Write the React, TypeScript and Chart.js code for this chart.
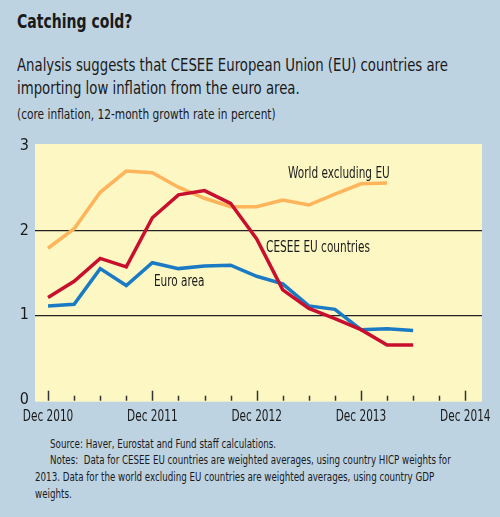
import React, { useEffect, useRef } from "react";
import { Chart, registerables, ChartOptions, Plugin } from "chart.js";

Chart.register(...registerables);

// quarterly points, index 0 = Dec 2010
const cesee = [1.21, 1.4, 1.67, 1.57, 2.15, 2.42, 2.47, 2.32, 1.9, 1.3, 1.08, 0.96, 0.83, 0.65, 0.65];
const euroArea = [1.11, 1.13, 1.55, 1.35, 1.62, 1.55, 1.58, 1.59, 1.46, 1.37, 1.11, 1.07, 0.83, 0.84, 0.82];
const worldExEu = [1.79, 2.02, 2.45, 2.7, 2.68, 2.51, 2.38, 2.28, 2.28, 2.36, 2.3, 2.43, 2.55, 2.56];

const xTickLabels = ["Dec 2010", "Dec 2011", "Dec 2012", "Dec 2013", "Dec 2014"];
const yTicks = [0, 1, 2, 3];
const quarterCount = 17;

const seriesLabels = ["CESEE EU countries", "Euro area", "World excluding EU"];

const FONT = "'DejaVu Sans Condensed', 'Liberation Sans', sans-serif";
const SQUEEZE = 0.78; // the original uses a condensed face
const BLUE_BG = "#bed3e2";
const PLOT_BG = "#fcf7c3";

const toPoints = (vals: number[]) => vals.map((y, x) => ({ x, y }));

// label anchors in data units (left edge, baseline)
const labelSpots = [
  { text: "World excluding EU", x: 9.2, y: 2.62 },
  { text: "CESEE EU countries", x: 8.36, y: 1.75 },
  { text: "Euro area", x: 4.06, y: 1.35 },
];

const squeezedText = (ctx: CanvasRenderingContext2D, s: string, x: number, y: number, align: "left" | "center") => {
  ctx.save();
  ctx.translate(x, y);
  ctx.scale(SQUEEZE, 1);
  ctx.textAlign = align;
  ctx.fillText(s, 0, 0);
  ctx.restore();
};

const plotBg: Plugin<"line"> = {
  id: "plotBg",
  beforeDraw(chart) {
    const { ctx, chartArea: a } = chart;
    ctx.save();
    ctx.fillStyle = PLOT_BG;
    ctx.fillRect(a.left, a.top, a.right - a.left, a.bottom - a.top);
    ctx.restore();
  },
  beforeDatasetsDraw(chart) {
    // tick marks pointing up into the plot
    const { ctx, chartArea: a } = chart;
    const xs = chart.scales.x;
    ctx.save();
    ctx.strokeStyle = "#333";
    ctx.lineWidth = 1.5;
    for (let q = 0; q < quarterCount; q++) {
      const px = Math.round(xs.getPixelForValue(q)) + 0.5;
      const len = q % 4 === 0 ? 10 : 5;
      ctx.beginPath();
      ctx.moveTo(px, a.bottom - 1);
      ctx.lineTo(px, a.bottom - 1 - len);
      ctx.stroke();
    }
    ctx.restore();
  },
  afterDatasetsDraw(chart) {
    const { ctx, chartArea: a } = chart;
    const xs = chart.scales.x;
    const ys = chart.scales.y;
    ctx.save();
    ctx.fillStyle = "#1a1a1a";
    ctx.font = `15px ${FONT}`;
    ctx.textBaseline = "alphabetic";
    labelSpots.forEach((l) => {
      squeezedText(ctx, l.text, xs.getPixelForValue(l.x), ys.getPixelForValue(l.y), "left");
    });
    // x tick labels from the scale's own ticks
    xs.ticks.forEach((t) => {
      squeezedText(ctx, String(t.label ?? ""), xs.getPixelForValue(t.value), a.bottom + 19, "center");
    });
    ctx.restore();
  },
};

const LineChart: React.FC = () => {
  const canvasRef = useRef<HTMLCanvasElement>(null);

  useEffect(() => {
    if (!canvasRef.current) return;
    const ctx = canvasRef.current.getContext("2d")!;

    const options: ChartOptions<"line"> = {
      responsive: true,
      maintainAspectRatio: false,
      animation: false,
      layout: { padding: { left: 0, right: 18, top: 14, bottom: 0 } },
      elements: { point: { radius: 0 }, line: { tension: 0, borderWidth: 3.5 } },
      scales: {
        x: {
          type: "linear",
          min: -0.5,
          max: 16.64,
          grid: { display: false },
          border: { display: false },
          afterBuildTicks: (s) => {
            s.ticks = xTickLabels.map((_, i) => ({ value: i * 4 }));
          },
          afterFit: (s) => {
            s.height = 28.3;
            s.paddingLeft = 0;
            s.paddingRight = 0;
          },
          ticks: {
            display: false,
            autoSkip: false,
            maxRotation: 0,
            callback: (v) => xTickLabels[Number(v) / 4] ?? "",
          },
        },
        y: {
          min: -0.02,
          max: 3.02,
          border: { display: false },
          grid: {
            drawTicks: false,
            lineWidth: 1.2,
            color: (c) => (c.tick && (c.tick.value === 1 || c.tick.value === 2) ? "#222" : "rgba(0,0,0,0)"),
          },
          afterBuildTicks: (s) => {
            s.ticks = yTicks.map((v) => ({ value: v }));
          },
          afterFit: (s) => {
            s.width = 35;
            s.paddingTop = 0;
            s.paddingBottom = 0;
          },
          ticks: {
            padding: 6,
            color: "#1a1a1a",
            font: { family: FONT, size: 16 },
            callback: (v) => String(v),
          },
        },
      },
      plugins: {
        legend: { display: false },
        tooltip: { enabled: false },
      },
    };

    const chart = new Chart(ctx, {
      type: "line",
      data: {
        datasets: [
          { label: seriesLabels[0], data: toPoints(cesee), borderColor: "#c8102e" },
          { label: seriesLabels[1], data: toPoints(euroArea), borderColor: "#1a7bc4" },
          { label: seriesLabels[2], data: toPoints(worldExEu), borderColor: "#fdb45a" },
        ],
      },
      options,
      plugins: [plotBg],
    });

    return () => {
      chart.destroy();
    };
  }, []);

  return (
    <div style={{ position: "absolute", left: 0, top: 130, width: 500, height: 300 }}>
      <canvas ref={canvasRef} />
    </div>
  );
};

const Squeezed: React.FC<{ k: number; style: React.CSSProperties; children: React.ReactNode }> = ({ k, style, children }) => (
  <div
    style={{
      position: "absolute",
      fontFamily: FONT,
      color: "#1a1a1a",
      whiteSpace: "nowrap",
      transform: `scaleX(${k})`,
      transformOrigin: "left top",
      ...style,
    }}
  >
    {children}
  </div>
);

export default function App() {
  return (
    <div style={{ position: "absolute", left: 0, top: 0, width: 500, height: 517, background: BLUE_BG, overflow: "hidden" }}>
      <Squeezed k={0.8} style={{ left: 17, top: 10, fontSize: 19.5, lineHeight: "24px", fontWeight: "bold" }}>
        Catching cold?
      </Squeezed>
      <Squeezed k={0.82} style={{ left: 17, top: 53, fontSize: 18, lineHeight: "23px" }}>
        Analysis suggests that CESEE European Union (EU) countries are
        <br />
        importing low inflation from the euro area.
      </Squeezed>
      <Squeezed k={0.843} style={{ left: 17, top: 106, fontSize: 14, lineHeight: "17px" }}>
        (core inflation, 12-month growth rate in percent)
      </Squeezed>
      <LineChart />
      <Squeezed k={0.775} style={{ left: 35, top: 435.6, fontSize: 12.5, lineHeight: "16.7px" }}>
        <div style={{ textIndent: 19.4 }}>Source: Haver, Eurostat and Fund staff calculations.</div>
        <div style={{ textIndent: 19.4 }}>
          Notes:&nbsp; Data for CESEE EU countries are weighted averages, using country HICP weights for
        </div>
        <div>2013. Data for the world excluding EU countries are weighted averages, using country GDP</div>
        <div>weights.</div>
      </Squeezed>
    </div>
  );
}
